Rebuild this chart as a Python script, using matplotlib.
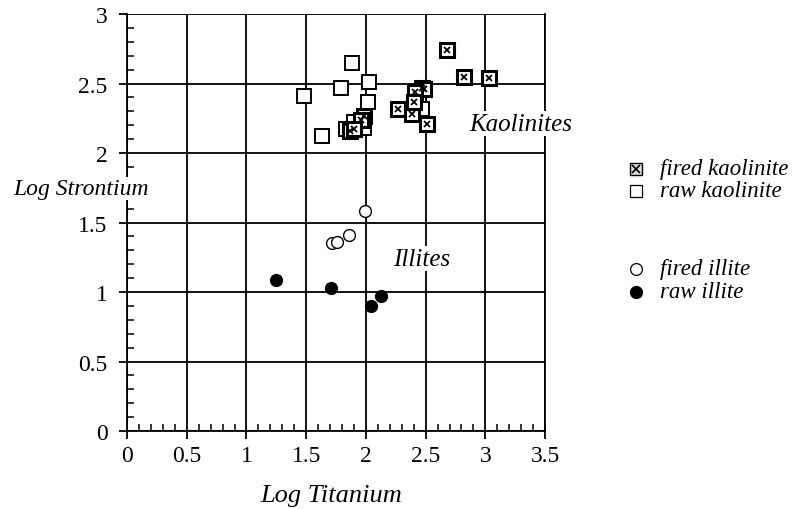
import matplotlib.pyplot as plt
from matplotlib.ticker import MultipleLocator, FuncFormatter

plt.rcParams['font.family'] = ['Liberation Serif', 'DejaVu Serif']

# Log Titanium vs Log Strontium
raw_kao_x = [1.48, 1.88, 1.79, 2.03, 2.02, 1.63, 1.83, 1.90, 1.98, 2.47]
raw_kao_y = [2.41, 2.65, 2.47, 2.51, 2.37, 2.12, 2.17, 2.22, 2.18, 2.32]

fired_kao_x = [2.68, 2.82, 3.03, 2.27, 2.39, 2.51, 2.47, 2.49, 2.41, 2.40, 1.98, 1.96, 1.87, 1.90]
fired_kao_y = [2.74, 2.55, 2.54, 2.32, 2.28, 2.21, 2.47, 2.46, 2.44, 2.37, 2.27, 2.24, 2.16, 2.17]

fired_ill_x = [1.99, 1.72, 1.76, 1.86]
fired_ill_y = [1.58, 1.35, 1.36, 1.41]

raw_ill_x = [1.25, 1.71, 2.13, 2.04]
raw_ill_y = [1.09, 1.03, 0.97, 0.90]

fig = plt.figure(figsize=(7.92, 5.10), dpi=100)
ax = fig.add_axes([0.1604, 0.1529, 0.5278, 0.8176])

ax.plot(raw_kao_x, raw_kao_y, 's', ms=9.5, mfc='white', mec='black', mew=1.4, clip_on=False)
ax.plot(fired_kao_x, fired_kao_y, 's', ms=9.5, mfc='white', mec='black', mew=2.2, clip_on=False)
ax.plot(fired_kao_x, fired_kao_y, 'x', ms=5, mec='black', mew=1.3, clip_on=False)
ax.plot(fired_ill_x, fired_ill_y, 'o', ms=8.5, mfc='white', mec='black', mew=1.0)
ax.plot(raw_ill_x, raw_ill_y, 'o', ms=8.5, mfc='black', mec='black')

ax.set_xlim(0, 3.5)
ax.set_ylim(0, 3)
ax.xaxis.set_major_locator(MultipleLocator(0.5))
ax.yaxis.set_major_locator(MultipleLocator(0.5))
ax.xaxis.set_minor_locator(MultipleLocator(0.1))
ax.yaxis.set_minor_locator(MultipleLocator(0.1))
fmt = FuncFormatter(lambda v, p: f'{v:g}')
ax.xaxis.set_major_formatter(fmt)
ax.yaxis.set_major_formatter(fmt)
ax.grid(True, which='major', color='black', linewidth=1.3)
ax.set_axisbelow(True)
ax.tick_params(which='major', direction='out', length=6, width=1.3, labelsize=17)
ax.tick_params(axis='x', which='major', pad=4)
ax.tick_params(axis='y', which='major', pad=8)
ax.tick_params(which='minor', direction='in', length=5, width=1.1)
for s in ax.spines.values():
    s.set_linewidth(1.3)
ax.spines['top'].set_visible(False)

ax.text(3.30, 2.21, 'Kaolinites', style='italic', fontsize=18, ha='center', va='center',
        bbox=dict(facecolor='white', edgecolor='none', pad=1))
ax.text(2.47, 1.24, 'Illites', style='italic', fontsize=18, ha='center', va='center',
        bbox=dict(facecolor='white', edgecolor='none', pad=1))

fig.text(0.418, 0.016, 'Log Titanium', style='italic', fontsize=19, ha='center', va='baseline')
fig.text(0.0164, 0.6176, 'Log Strontium', style='italic', fontsize=17, ha='left', va='baseline',
         bbox=dict(facecolor='white', edgecolor='none', pad=1))

# legend drawn by hand on the right
legend_items = [
    (0.667, 'fired kaolinite'),
    (0.624, 'raw kaolinite'),
    (0.4706, 'fired illite'),
    (0.4255, 'raw illite'),
]
mx, tx = 0.803, 0.833
fig.add_artist(plt.Line2D([mx], [legend_items[0][0]], marker='s', ms=8.5, mfc='#dddddd', mec='black', mew=1.0))
fig.add_artist(plt.Line2D([mx], [legend_items[0][0]], marker='x', ms=6, mec='black', mew=1.2))
fig.add_artist(plt.Line2D([mx], [legend_items[1][0]], marker='s', ms=9, mfc='white', mec='black', mew=0.9))
fig.add_artist(plt.Line2D([mx], [legend_items[2][0]], marker='o', ms=8.5, mfc='white', mec='black', mew=0.9))
fig.add_artist(plt.Line2D([mx], [legend_items[3][0]], marker='o', ms=8.5, mfc='black', mec='black'))
for y, label in legend_items:
    fig.text(tx, y, label, style='italic', fontsize=16.5, ha='left', va='center')

fig.savefig('out.png', dpi=100)
